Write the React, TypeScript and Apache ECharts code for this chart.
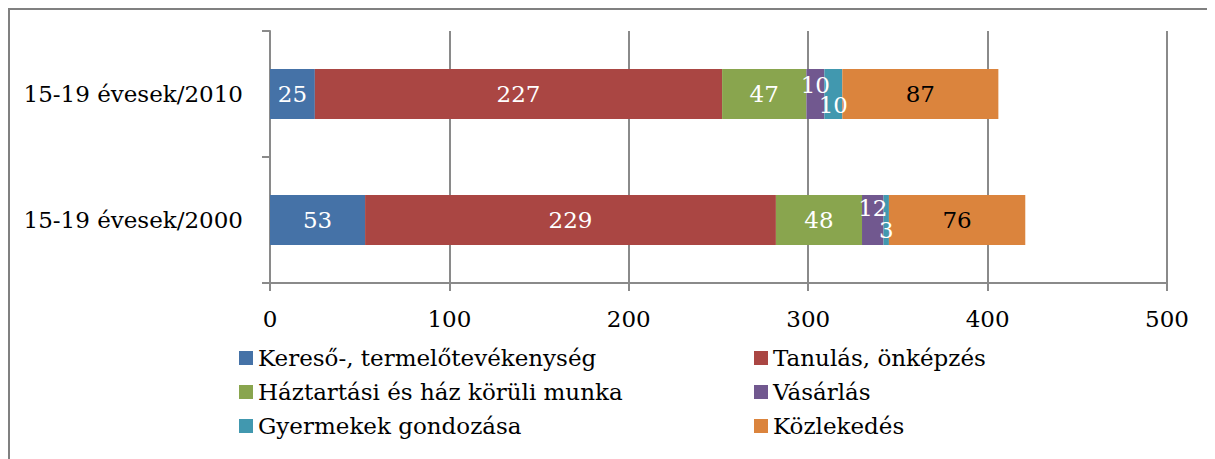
import React, { useEffect, useRef } from "react";
import * as echarts from "echarts";

const categories = ["15-19 évesek/2000", "15-19 évesek/2010"];
const seriesNames = [
  "Kereső-, termelőtevékenység",
  "Tanulás, önképzés",
  "Háztartási és ház körüli munka",
  "Vásárlás",
  "Gyermekek gondozása",
  "Közlekedés",
];
const kereso = [53, 25];
const tanulas = [229, 227];
const haztartas = [48, 47];
const vasarlas = [12, 10];
const gyermek = [3, 10];
const kozlekedes = [76, 87];
const xTicks = [0, 100, 200, 300, 400, 500];

const colors = ["#4572A7", "#AA4643", "#89A54E", "#71588F", "#4198AF", "#DB843D"];
const labelColors = ["#fff", "#fff", "#fff", "#fff", "#fff", "#000"];
const labelOffsets: (number[] | null)[][] = [
  [null, null],
  [null, null],
  [null, null],
  [[0, -12], [0, -9]],
  [[0, 10], [0, 11]],
  [null, null],
];

const FONT = "DejaVu Serif";
const FS = 23;

export default function App() {
  const ref = useRef<HTMLDivElement>(null);
  useEffect(() => {
    if (!ref.current) return;
    const chart = echarts.init(ref.current, null, { renderer: "svg" });
    const values = [kereso, tanulas, haztartas, vasarlas, gyermek, kozlekedes];
    const axisColor = "#8a8a8a";
    const legendBase = {
      orient: "vertical",
      top: 338,
      padding: 0,
      itemWidth: 14,
      itemHeight: 14,
      itemGap: 10,
      icon: "rect",
      textStyle: { fontFamily: FONT, fontSize: FS, lineHeight: 24, color: "#000" },
    };
    chart.setOption({
      animation: false,
      graphic: [
        {
          type: "rect",
          shape: { x: 1, y: 1, width: 3000, height: 3000 },
          style: { fill: "none", stroke: "#808080", lineWidth: 2 },
          silent: true,
        },
      ],
      legend: [
        { ...legendBase, left: 231, data: [seriesNames[0], seriesNames[2], seriesNames[4]] },
        { ...legendBase, left: 746, data: [seriesNames[1], seriesNames[3], seriesNames[5]] },
      ],
      grid: { left: 262, top: 23, width: 897, height: 252, containLabel: false },
      xAxis: {
        type: "value",
        min: xTicks[0],
        max: xTicks[xTicks.length - 1],
        interval: xTicks[1] - xTicks[0],
        axisLine: { show: true, lineStyle: { color: axisColor, width: 2 } },
        axisTick: { show: true, length: 8, lineStyle: { color: axisColor, width: 2 } },
        splitLine: { show: true, lineStyle: { color: axisColor, width: 2 } },
        axisLabel: { fontFamily: FONT, fontSize: FS, color: "#000", margin: 24 },
      },
      yAxis: {
        type: "category",
        data: categories,
        axisLine: { show: true, lineStyle: { color: axisColor, width: 2 } },
        axisTick: { show: true, length: 8, lineStyle: { color: axisColor, width: 2 } },
        axisLabel: { fontFamily: FONT, fontSize: FS, color: "#000", margin: 27 },
      },
      series: seriesNames.map((name, i) => ({
        name,
        type: "bar",
        stack: "total",
        barWidth: 50,
        itemStyle: { color: colors[i] },
        label: {
          show: true,
          position: "inside",
          fontFamily: FONT,
          fontSize: FS,
          color: labelColors[i],
        },
        data: values[i].map((v, j) => {
          const off = labelOffsets[i][j];
          return off ? { value: v, label: { offset: off } } : { value: v };
        }),
      })),
    });
    return () => chart.dispose();
  }, []);
  return <div ref={ref} style={{ width: 1207, height: 451 }} />;
}
